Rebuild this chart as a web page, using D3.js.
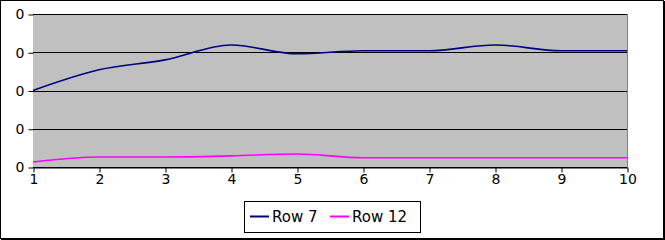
<!DOCTYPE html>
<html><head><meta charset="utf-8">
<script src="https://cdn.jsdelivr.net/npm/d3@7"></script>
<style>body{margin:0;background:#fff}svg{display:block}</style>
</head><body>
<script>
const categories = [1,2,3,4,5,6,7,8,9,10];
const row7 = [0.200,0.254,0.280,0.319,0.296,0.304,0.304,0.319,0.304,0.304];
const row12 = [0.013,0.026,0.026,0.029,0.034,0.024,0.024,0.024,0.024,0.024];
const yTicks = [0,0.1,0.2,0.3,0.4];
const seriesNames = ["Row 7","Row 12"];
const colors = ["#000080","#ff00ff"];

const W=665,H=240;
const svg=d3.select("body").append("svg").attr("width",W).attr("height",H);
svg.append("rect").attr("x",0.5).attr("y",0.5).attr("width",W-2).attr("height",H-2).attr("fill","#fff").attr("stroke","#000");
svg.append("line").attr("x1",W-0.5).attr("x2",W-0.5).attr("y1",1).attr("y2",H).attr("stroke","#000");
svg.append("line").attr("x1",1).attr("x2",W).attr("y1",H-0.5).attr("y2",H-0.5).attr("stroke","#000");

const x=d3.scaleLinear().domain([1,10]).range([33,627]);
const y=d3.scaleLinear().domain([0,0.4]).range([167,14]);

svg.append("rect").attr("x",33).attr("y",14).attr("width",594).attr("height",153).attr("fill","#c0c0c0");
svg.append("g").selectAll("line").data(yTicks).join("line")
 .attr("x1",33).attr("x2",627).attr("y1",d=>Math.round(y(d))+0.5).attr("y2",d=>Math.round(y(d))+0.5)
 .attr("stroke","#000");
svg.append("line").attr("x1",627.5).attr("x2",627.5).attr("y1",14).attr("y2",167).attr("stroke","#808080");

const fmt=d=>String(Math.trunc(d));
const ya=svg.append("g").attr("transform","translate(33.5,0.5)")
 .call(d3.axisLeft(y).tickValues(yTicks).tickFormat(fmt).tickSize(5).tickPadding(4).tickSizeOuter(0));
const xa=svg.append("g").attr("transform","translate(0.5,167.5)")
 .call(d3.axisBottom(x).tickValues(categories).tickFormat(d3.format("d")).tickSize(5).tickPadding(2).tickSizeOuter(0));
[ya,xa].forEach(g=>{g.selectAll("text").attr("font-family","DejaVu Sans").attr("font-size",14).attr("fill","#000");
 g.selectAll("line,path").attr("stroke","#000");});
ya.select(".domain").attr("d","M0,-153.5V0");

const line=d3.line().x((d,i)=>x(categories[i])).y(d=>y(d)).curve(d3.curveMonotoneX);
[row7,row12].forEach((s,k)=>{
 svg.append("path").attr("d",line(s)).attr("fill","none").attr("stroke",colors[k]).attr("stroke-width",1.6);
});

const lg=svg.append("g");
lg.append("rect").attr("x",244.5).attr("y",201.5).attr("width",176).attr("height",31).attr("fill","#fff").attr("stroke","#000");
const lx=[250,330];
seriesNames.forEach((n,i)=>{
 lg.append("line").attr("x1",lx[i]).attr("x2",lx[i]+19).attr("y1",216.5).attr("y2",216.5).attr("stroke",colors[i]).attr("stroke-width",2);
 lg.append("text").attr("x",lx[i]+22).attr("y",222).attr("font-family","DejaVu Sans").attr("font-size",15).text(n);
});
</script>
</body></html>
